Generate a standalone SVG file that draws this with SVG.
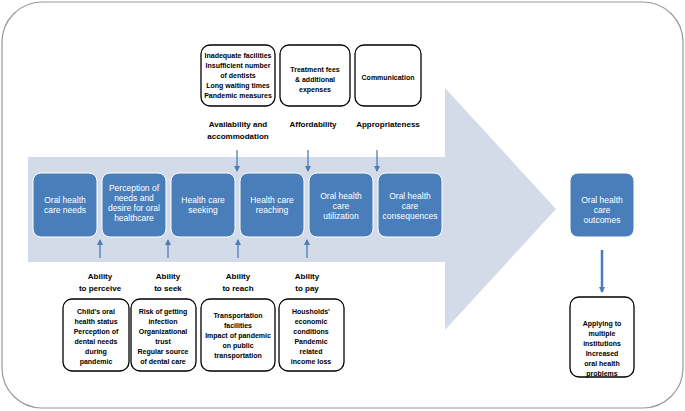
<svg xmlns="http://www.w3.org/2000/svg" width="685" height="411" viewBox="0 0 685 411">
<defs>
<style>
text{font-family:"Liberation Sans",Arial,sans-serif;text-anchor:middle}
.b rect{fill:#4a7ebb;stroke:#fff;stroke-width:1}
.b text{fill:#fff;font-size:8.5px}
.w rect{fill:#fff;stroke:#000;stroke-width:1.3}
.w text{font-size:7px;font-weight:bold}
.l{font-size:8px;font-weight:bold}
.c line{stroke:#4a7ebb;stroke-width:1.3;marker-end:url(#a)}
</style>
<marker id="a" markerWidth="6" markerHeight="6" refX="5" refY="3" orient="auto" markerUnits="userSpaceOnUse"><path d="M0,0L6,3L0,6z" fill="#4a7ebb"/></marker>
</defs>
<rect x="2" y="2" width="681" height="406" rx="40" fill="#fff" stroke="#999" stroke-width="1.2"/>
<path d="M28,157H445V88L556,209L445,330V262H28z" fill="#d3dbe8"/>
<g class="b" id="n1"><rect x="33" y="173" width="64" height="64" rx="8"/><text x="65" y="203">Oral health</text><text x="65" y="213">care needs</text></g>
<g class="b" id="n2"><rect x="102" y="173" width="64" height="64" rx="8"/><text x="134" y="191">Perception of</text><text x="134" y="201">needs and</text><text x="134" y="211">desire for oral</text><text x="134" y="221">healthcare</text></g>
<g class="b" id="n3"><rect x="171" y="173" width="64" height="64" rx="8"/><text x="203" y="203">Health care</text><text x="203" y="213">seeking</text></g>
<g class="b" id="n4"><rect x="240" y="173" width="64" height="64" rx="8"/><text x="272" y="203">Health care</text><text x="272" y="213">reaching</text></g>
<g class="b" id="n5"><rect x="309" y="173" width="64" height="64" rx="8"/><text x="341" y="199">Oral health</text><text x="341" y="209">care</text><text x="341" y="219">utilization</text></g>
<g class="b" id="n6"><rect x="378" y="173" width="64" height="64" rx="8"/><text x="410" y="199">Oral health</text><text x="410" y="209">care</text><text x="410" y="219">consequences</text></g>
<g class="b" id="n7"><rect x="570" y="173" width="64" height="64" rx="8"/><text x="602" y="203">Oral health</text><text x="602" y="213">care</text><text x="602" y="223">outcomes</text></g>
<g class="w" id="t1"><rect x="201" y="45" width="74" height="61" rx="9"/><text x="238" y="58">Inadequate facilities</text><text x="238" y="68">Insufficient number</text><text x="238" y="78">of dentists</text><text x="238" y="88">Long waiting times</text><text x="238" y="98">Pandemic measures</text></g>
<g class="w" id="t2"><rect x="280" y="45" width="70" height="61" rx="9"/><text x="315" y="72">Treatment fees</text><text x="315" y="82">&amp; additional</text><text x="315" y="92">expenses</text></g>
<g class="w" id="t3"><rect x="355" y="45" width="66" height="61" rx="9"/><text x="388" y="80">Communication</text></g>
<text class="l" x="238" y="127">Availability  and</text><text class="l" x="238" y="139">accommodation</text>
<text class="l" x="313" y="127">Affordability</text>
<text class="l" x="388" y="127">Appropriateness</text>
<text class="l" x="100" y="279">Ability</text><text class="l" x="100" y="291">to perceive</text>
<text class="l" x="168" y="279">Ability</text><text class="l" x="168" y="291">to seek</text>
<text class="l" x="238" y="279">Ability</text><text class="l" x="238" y="291">to reach</text>
<text class="l" x="307" y="279">Ability</text><text class="l" x="307" y="291">to pay</text>
<g class="w" id="b1"><rect x="63" y="299" width="66" height="72" rx="9"/><text x="96" y="314">Child’s oral</text><text x="96" y="324">health status</text><text x="96" y="334">Perception of</text><text x="96" y="344">dental needs</text><text x="96" y="354">during</text><text x="96" y="364">pandemic</text></g>
<g class="w" id="b2"><rect x="131" y="299" width="65" height="72" rx="9"/><text x="163" y="314">Risk of getting</text><text x="163" y="324">infection</text><text x="163" y="334">Organizational</text><text x="163" y="344">trust</text><text x="163" y="354">Regular source</text><text x="163" y="364">of dental care</text></g>
<g class="w" id="b3"><rect x="201" y="299" width="74" height="72" rx="9"/><text x="238" y="318">Transportation</text><text x="238" y="328">facilities</text><text x="238" y="338">Impact of pandemic</text><text x="238" y="348">on public</text><text x="238" y="358">transportation</text></g>
<g class="w" id="b4"><rect x="279" y="299" width="65" height="72" rx="9"/><text x="311" y="314">Housholds’</text><text x="311" y="324">economic</text><text x="311" y="334">conditions</text><text x="311" y="344">Pandemic</text><text x="311" y="354">related</text><text x="311" y="364">income loss</text></g>
<g class="w" id="b5"><rect x="570" y="297" width="64" height="80" rx="9"/><text x="602" y="326">Applying to</text><text x="602" y="336">multiple</text><text x="602" y="346">institutions</text><text x="602" y="356">Increased</text><text x="602" y="366">oral health</text><text x="602" y="376">problems</text></g>
<g class="c" id="connectors">
<line x1="237" y1="150" x2="237" y2="171"/><line x1="308" y1="150" x2="308" y2="171"/><line x1="377" y1="150" x2="377" y2="171"/>
<line x1="100" y1="258" x2="100" y2="240"/><line x1="168" y1="258" x2="168" y2="240"/><line x1="238" y1="258" x2="238" y2="240"/><line x1="307" y1="258" x2="307" y2="240"/>
<line x1="602" y1="250" x2="602" y2="292" style="stroke-width:2.5"/>
</g>
</svg>
